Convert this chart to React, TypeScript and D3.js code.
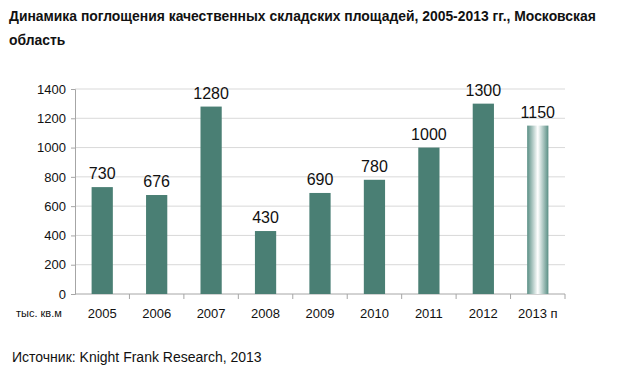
import React, { useEffect, useRef } from "react";
import * as d3 from "d3";

const years = ["2005", "2006", "2007", "2008", "2009", "2010", "2011", "2012", "2013 п"];
const values = [730, 676, 1280, 430, 690, 780, 1000, 1300, 1150];
const forecast = [false, false, false, false, false, false, false, false, true];
const yTicks = [0, 200, 400, 600, 800, 1000, 1200, 1400];

const width = 622;
const height = 372;
const margin = { left: 75, right: 57, top: 89, bottom: 78 };

const App = () => {
  const ref = useRef<SVGSVGElement>(null);

  useEffect(() => {
    const svg = d3.select(ref.current);
    svg.selectAll("*").remove();

    const font = "Arial, 'Liberation Sans', sans-serif";
    const x = d3
      .scaleBand()
      .domain(years)
      .range([margin.left, width - margin.right])
      .paddingInner(0.61)
      .paddingOuter(0.305);
    const y = d3
      .scaleLinear()
      .domain([0, 1400])
      .range([height - margin.bottom, margin.top]);

    // gradient for forecast bar
    const grad = svg
      .append("defs")
      .append("linearGradient")
      .attr("id", "fc")
      .attr("x1", "0%")
      .attr("x2", "100%");
    grad.append("stop").attr("offset", "0%").attr("stop-color", "#5a8f85");
    grad.append("stop").attr("offset", "50%").attr("stop-color", "#ffffff");
    grad.append("stop").attr("offset", "100%").attr("stop-color", "#5a8f85");

    // title
    const title = svg.append("text").attr("font-family", font).attr("font-weight", "bold").attr("font-size", 13.9).attr("fill", "#111");
    title.append("tspan").attr("x", 9).attr("y", 21).text("Динамика поглощения качественных складских площадей, 2005-2013 гг., Московская");
    title.append("tspan").attr("x", 9).attr("y", 45).text("область");

    // gridlines
    svg
      .append("g")
      .selectAll("line")
      .data(yTicks.slice(1))
      .enter()
      .append("line")
      .attr("x1", margin.left)
      .attr("x2", width - margin.right)
      .attr("y1", (d) => y(d))
      .attr("y2", (d) => y(d))
      .attr("stroke", "#d9d9d9")
      .attr("stroke-width", 1);

    // y axis
    const yAxis = svg
      .append("g")
      .attr("transform", `translate(${margin.left},0)`)
      .call(d3.axisLeft(y).tickValues(yTicks).tickFormat(d3.format("d")).tickSize(4).tickPadding(5));
    yAxis.select(".domain").attr("stroke", "#a6a6a6");
    yAxis.selectAll(".tick line").attr("stroke", "#a6a6a6");
    yAxis.selectAll("text").attr("font-family", font).attr("font-size", 13).attr("fill", "#111");

    // x axis with boundary ticks
    const xg = svg.append("g").attr("transform", `translate(0,${y(0)})`);
    xg.append("line")
      .attr("x1", margin.left)
      .attr("x2", width - margin.right)
      .attr("stroke", "#a6a6a6");
    const step = x.step();
    xg.selectAll("line.tk")
      .data(years)
      .enter()
      .append("line")
      .attr("class", "tk")
      .attr("x1", (d) => x(d)! + x.bandwidth() / 2 + step / 2)
      .attr("x2", (d) => x(d)! + x.bandwidth() / 2 + step / 2)
      .attr("y1", 0)
      .attr("y2", 5)
      .attr("stroke", "#a6a6a6");
    xg.selectAll("text")
      .data(years)
      .enter()
      .append("text")
      .attr("x", (d) => x(d)! + x.bandwidth() / 2)
      .attr("y", 24)
      .attr("text-anchor", "middle")
      .attr("font-family", font)
      .attr("font-size", 13)
      .attr("fill", "#111")
      .text((d) => d);
    xg.append("text")
      .attr("x", 16)
      .attr("y", 23)
      .attr("font-family", font)
      .attr("font-size", 11)
      .attr("fill", "#111")
      .text("тыс. кв.м");

    // bars
    svg
      .append("g")
      .selectAll("rect")
      .data(values)
      .enter()
      .append("rect")
      .attr("x", (d, i) => x(years[i])!)
      .attr("width", x.bandwidth())
      .attr("y", (d) => y(d))
      .attr("height", (d) => y(0) - y(d))
      .attr("fill", (d, i) => (forecast[i] ? "url(#fc)" : "#4a7f74"));

    // value labels
    svg
      .append("g")
      .selectAll("text")
      .data(values)
      .enter()
      .append("text")
      .attr("x", (d, i) => x(years[i])! + x.bandwidth() / 2)
      .attr("y", (d) => y(d) - 8)
      .attr("text-anchor", "middle")
      .attr("font-family", font)
      .attr("font-size", 16)
      .attr("fill", "#111")
      .text((d) => d);

    // source
    svg
      .append("text")
      .attr("x", 12)
      .attr("y", 362)
      .attr("font-family", font)
      .attr("font-size", 14)
      .attr("fill", "#111")
      .text("Источник: Knight Frank Research, 2013");
  }, []);

  return (
    <svg
      ref={ref}
      width={width}
      height={height}
      style={{ position: "absolute", left: 0, top: 0, background: "#fff" }}
    ></svg>
  );
};

export default App;
